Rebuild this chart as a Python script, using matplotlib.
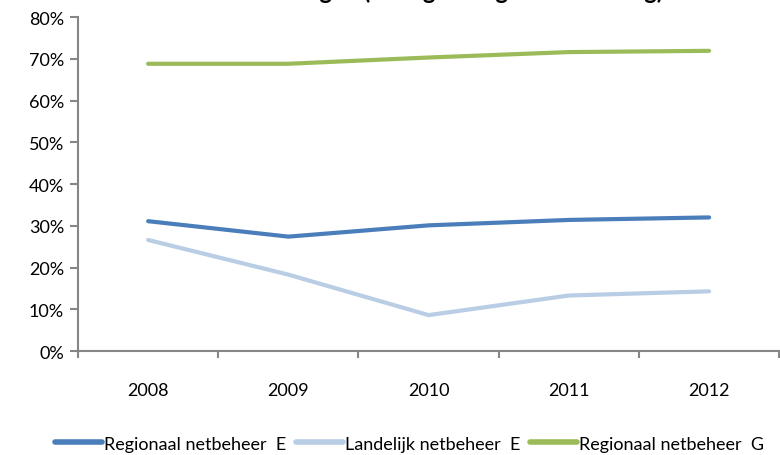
import matplotlib.pyplot as plt
from matplotlib.ticker import FuncFormatter, FixedLocator

plt.rcParams['font.family'] = ['Lato', 'DejaVu Sans']

years = ['2008', '2009', '2010', '2011', '2012']
regionaal_e = [31.1, 27.4, 30.1, 31.4, 32.0]
landelijk_e = [26.6, 18.3, 8.6, 13.3, 14.3]
regionaal_g = [68.8, 68.8, 70.3, 71.6, 71.9]
names = ['Regionaal netbeheer  E', 'Landelijk netbeheer  E', 'Regionaal netbeheer  G']
colors = ['#4a7ebb', '#b9cde5', '#9bbb59']
title = 'Kostenaandeel in de omzetbedragen (na regulering en indexering)'

fig = plt.figure(figsize=(7.8, 4.56), dpi=100)
ax = fig.add_axes([0.1, 0.228, 0.899, 0.7325])

x = range(len(years))
for vals, name, c in zip([regionaal_e, landelijk_e, regionaal_g], names, colors):
    ax.plot(x, vals, color=c, lw=3, label=name, solid_capstyle='round')

ax.set_xlim(-0.5, len(years) - 0.5)
ax.set_ylim(0, 80)
ax.set_yticks(range(0, 81, 10))
ax.yaxis.set_major_formatter(FuncFormatter(lambda v, p: f'{v:.0f}%'))
ax.set_xticks(list(x))
ax.set_xticklabels(years)
ax.xaxis.set_minor_locator(FixedLocator([i - 0.5 for i in range(len(years) + 1)]))

gray = '#868686'
for s in ['top', 'right']:
    ax.spines[s].set_visible(False)
for s in ['left', 'bottom']:
    ax.spines[s].set_color(gray)
    ax.spines[s].set_linewidth(1.5)
ax.tick_params(axis='y', direction='out', length=6, width=1.5, color=gray,
               labelsize=13, pad=4)
ax.tick_params(axis='x', which='major', length=0, labelsize=13, pad=22)
ax.tick_params(axis='x', which='minor', direction='out', length=5, width=1.5, color=gray)

# titel valt grotendeels buiten beeld, zoals in het origineel
fig.text(0.85, 1.003, title, ha='right', va='baseline', fontsize=17, fontweight='bold')

leg = fig.legend(loc='lower center', bbox_to_anchor=(0.525, -0.028), ncol=3, frameon=False,
                 fontsize=13, handlelength=2.6, columnspacing=0.5, handletextpad=0.15)
for h in leg.get_lines():
    h.set_linewidth(4)

fig.savefig('out.png', dpi=100)
